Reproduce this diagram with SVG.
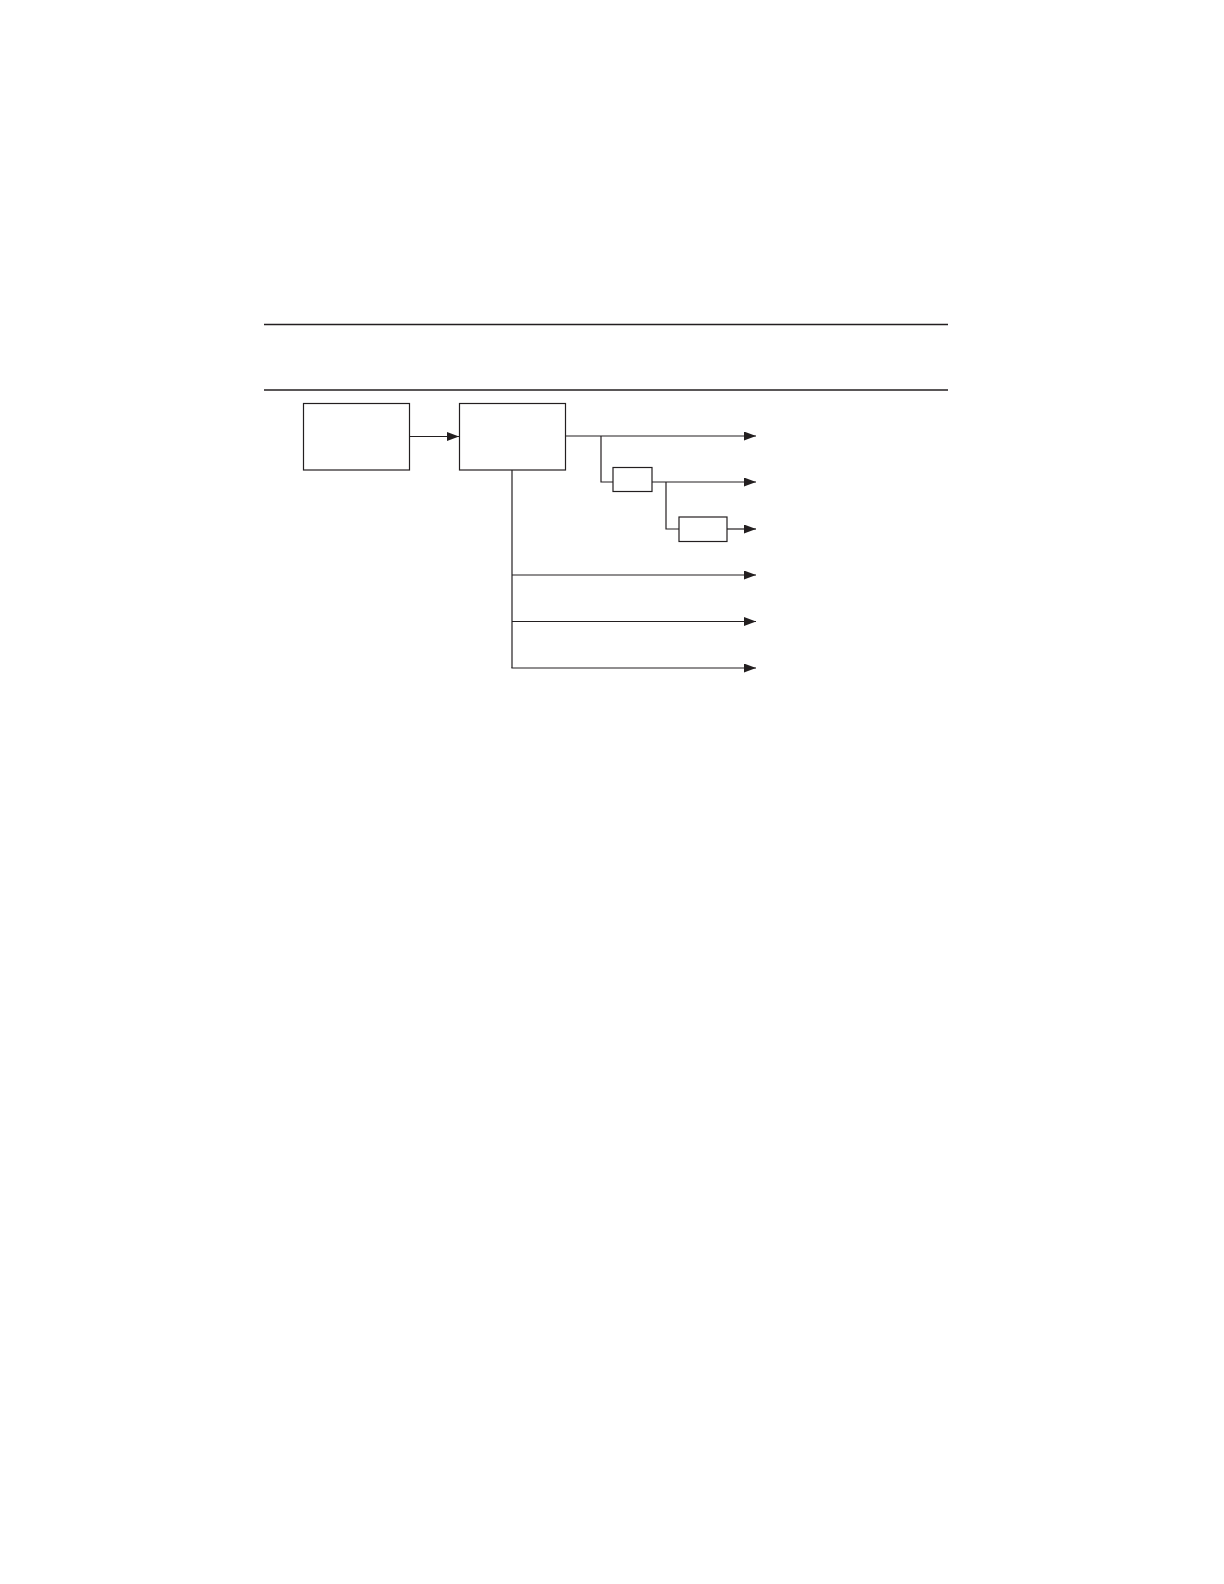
<svg xmlns="http://www.w3.org/2000/svg" width="1224" height="1584" viewBox="0 0 1224 1584">
<style>
.box{fill:#fff;stroke:#231f20;stroke-width:1.2}
.ln{fill:none;stroke:#231f20;stroke-width:1.2}
.rule{stroke:#231f20;stroke-width:1.3}
</style>
<defs>
<marker id="ah" markerUnits="userSpaceOnUse" markerWidth="14" markerHeight="10" refX="12" refY="4.5" orient="auto">
<path d="M0,0 L12,4.5 L0,9 Z" fill="#231f20"/>
</marker>
</defs>
<rect width="1224" height="1584" fill="#fff"/>
<line class="rule" x1="264" y1="324.5" x2="948" y2="324.5"/>
<line class="rule" x1="264" y1="390" x2="948" y2="390"/>
<g id="connectors">
<line class="ln" x1="409" y1="436.5" x2="459" y2="436.5" marker-end="url(#ah)"/>
<line class="ln" x1="565" y1="436" x2="756" y2="436" marker-end="url(#ah)"/>
<polyline class="ln" points="601,436 601,482 613,482"/>
<line class="ln" x1="652" y1="482" x2="756" y2="482" marker-end="url(#ah)"/>
<polyline class="ln" points="666,482 666,529 679,529"/>
<line class="ln" x1="727" y1="529" x2="756" y2="529" marker-end="url(#ah)"/>
<line class="ln" x1="512" y1="470" x2="512" y2="668"/>
<line class="ln" x1="512" y1="575" x2="756" y2="575" marker-end="url(#ah)"/>
<line class="ln" x1="512" y1="621.5" x2="756" y2="621.5" marker-end="url(#ah)"/>
<line class="ln" x1="511.4" y1="668" x2="756" y2="668" marker-end="url(#ah)"/>
</g>
<g id="node1"><rect class="box" x="303.5" y="403.5" width="106" height="66.5"/></g>
<g id="node2"><rect class="box" x="459.5" y="403.5" width="106" height="66.5"/></g>
<g id="node3"><rect class="box" x="613" y="467.5" width="39" height="24"/></g>
<g id="node4"><rect class="box" x="679" y="517" width="48" height="24.5"/></g>
</svg>
